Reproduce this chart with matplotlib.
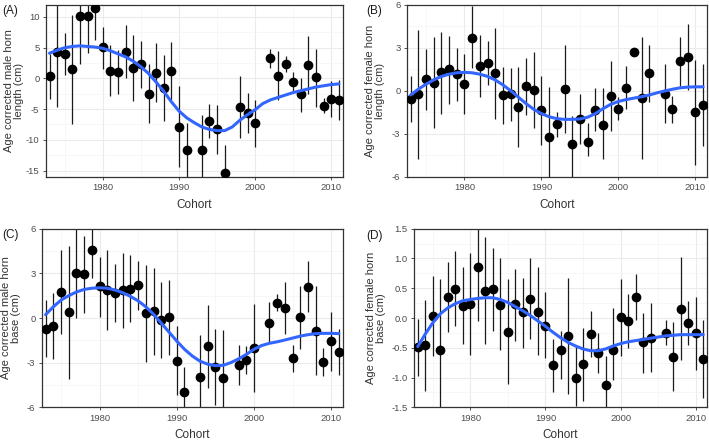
import numpy as np
import matplotlib
matplotlib.use('Agg')
import matplotlib.pyplot as plt
from matplotlib.ticker import MultipleLocator

plt.rcParams['font.family'] = ['Liberation Sans', 'DejaVu Sans']

curve_years = list(range(1973, 2012))

# (A) male horn length
a_years = [1973, 1974, 1975, 1976, 1977, 1978, 1979, 1980, 1981, 1982, 1983, 1984, 1985,
           1986, 1987, 1988, 1989, 1990, 1991, 1993, 1994, 1995, 1996, 1998, 1999, 2000,
           2002, 2003, 2004, 2005, 2006, 2007, 2008, 2009, 2010, 2011]
a_est = [0.4, 4.3, 4.0, 1.5, 10.2, 10.2, 11.4, 5.1, 1.2, 1.1, 4.3, 1.7, 2.3,
         -2.5, 0.9, -1.6, 1.2, -7.9, -11.7, -11.7, -6.9, -8.3, -15.4, -4.7, -5.7, -7.3,
         3.3, 0.4, 2.3, -0.6, -2.6, 2.2, 0.2, -4.5, -3.4, -3.5]
a_lo = [-3.4, -4.6, 0.6, -7.4, 2.3, 4.1, 6.3, 1.5, -2.9, -2.5, 0.0, -3.6, -1.5,
        -7.3, -3.9, -7.0, -3.5, -14.5, -17.0, -17.0, -9.7, -12.3, -17.0, -9.7, -8.9, -11.2,
        1.7, -3.5, 1.1, -2.2, -5.5, -2.6, -4.6, -5.6, -6.2, -6.7]
a_hi = [4.0, 13.0, 7.4, 10.3, 13.0, 13.0, 13.0, 8.3, 5.5, 4.6, 8.7, 7.1, 6.1,
        2.3, 5.8, 3.8, 6.0, -1.3, -7.2, -5.9, -4.2, -4.3, -10.9, 0.4, -2.4, -3.5,
        4.8, 4.4, 3.6, 1.1, 0.1, 6.9, 4.8, -3.2, -0.5, -0.3]
a_curve = [4.1, 4.6, 5.0, 5.2, 5.3, 5.2, 5.1, 4.9, 4.5, 4.0, 3.5, 2.8, 1.9,
           0.8, -0.6, -2.1, -3.8, -5.3, -6.4, -7.2, -7.9, -8.3, -8.5, -8.5, -7.9,
           -6.8, -5.9, -5.1, -4.1, -3.5, -3.1, -2.7, -2.3, -2.0, -1.7, -1.4, -1.2,
           -1.0, -0.9]

# (B) female horn length
b_years = [1973, 1974, 1975, 1976, 1977, 1978, 1979, 1980, 1981, 1982, 1983, 1984, 1985,
           1986, 1987, 1988, 1989, 1990, 1991, 1992, 1993, 1994, 1995, 1996, 1997, 1998,
           1999, 2000, 2001, 2002, 2003, 2004, 2006, 2007, 2008, 2009, 2010, 2011]
b_est = [-0.56, -0.26, 0.8, 0.56, 1.28, 1.5, 1.17, 0.47, 3.7, 1.73, 1.94, 1.24, -0.28,
         -0.26, -1.12, 0.33, 0.07, -1.38, -3.2, -2.31, 0.14, -3.74, -1.99, -3.55, -1.33, -2.36,
         -0.37, -1.26, 0.21, 2.71, -0.51, 1.24, -0.23, -1.31, 2.06, 2.38, -1.5, -0.98]
b_lo = [-2.2, -4.75, -1.35, -2.6, -1.6, -0.9, -0.7, -1.66, 1.57, -0.42, 0.42, -1.94, -2.29,
        -2.1, -3.93, -1.68, -2.6, -3.8, -7.0, -3.2, -2.92, -7.0, -3.74, -4.53, -2.83, -4.79,
        -2.83, -2.06, -1.29, 2.48, -4.74, -0.77, -2.22, -2.27, 0.33, 0.05, -5.19, -3.86]
b_hi = [1.05, 4.25, 2.9, 3.75, 4.1, 3.85, 3.0, 2.57, 5.9, 3.9, 3.48, 4.4, 1.66,
        1.6, 1.68, 2.31, 2.69, 1.03, 0.23, -1.5, 3.22, -1.75, -0.26, -2.24, 0.16, 0.16,
        2.08, -0.47, 1.7, 2.92, 3.74, 3.2, 1.85, -0.4, 3.78, 4.67, 2.15, 1.85]
b_curve = [-0.3, 0.1, 0.45, 0.75, 1.0, 1.15, 1.25, 1.28, 1.25, 1.15, 1.0, 0.75, 0.4,
           0.0, -0.45, -0.9, -1.3, -1.6, -1.82, -1.95, -2.0, -2.0, -1.97, -1.85, -1.6,
           -1.25, -0.95, -0.75, -0.62, -0.52, -0.42, -0.3, -0.15, -0.02, 0.1, 0.2, 0.25,
           0.27, 0.27]

# (C) male horn base
c_years = a_years
c_est = [-0.72, -0.54, 1.77, 0.38, 3.0, 2.93, 4.54, 2.13, 1.9, 1.66, 1.88, 1.97, 2.19,
         0.31, 0.45, -0.11, 0.07, -2.86, -5.0, -3.96, -1.88, -3.29, -4.0, -3.13, -2.82, -1.99,
         -0.36, 1.03, 0.67, -2.68, 0.04, 2.06, -0.85, -2.98, -1.54, -2.3]
c_lo = [-2.62, -2.75, -1.07, -4.07, 0.02, 0.36, 2.68, 0.07, -0.78, -0.29, -0.67, -0.25, 0.56,
        -2.98, -2.46, -2.7, -2.46, -5.19, -7.0, -7.0, -4.68, -5.82, -7.0, -4.47, -3.74, -4.97,
        -1.7, 0.47, -1.1, -3.6, -2.08, 0.4, -3.83, -3.92, -3.58, -3.85]
c_hi = [1.19, 1.7, 4.6, 4.83, 7.0, 5.5, 7.0, 4.12, 4.6, 3.65, 4.38, 4.2, 3.83,
        3.58, 3.33, 2.42, 2.57, -0.56, -3.31, -1.12, 0.89, -0.74, -0.8, -1.81, -1.9, 0.96,
        1.05, 1.63, 2.42, -1.79, 2.15, 3.8, 2.13, -2.04, 0.38, -0.76]
c_curve = [0.22, 0.75, 1.2, 1.5, 1.75, 1.92, 2.0, 2.03, 2.0, 1.88, 1.7, 1.45, 1.15,
           0.75, 0.25, -0.35, -0.95, -1.55, -2.1, -2.55, -2.9, -3.1, -3.2, -3.18, -3.0,
           -2.75, -2.45, -2.1, -1.85, -1.7, -1.6, -1.48, -1.35, -1.22, -1.12, -1.05,
           -1.03, -1.03, -1.05]

# (D) female horn base
d_years = b_years
d_est = [-0.49, -0.46, 0.03, -0.53, 0.35, 0.48, 0.2, 0.24, 0.85, 0.46, 0.48, 0.22, -0.23,
         0.23, 0.1, 0.32, 0.1, -0.13, -0.79, -0.53, -0.3, -1.01, -0.78, -0.27, -0.59, -1.12,
         -0.54, 0.02, -0.05, 0.36, -0.4, -0.33, -0.25, -0.65, 0.15, -0.08, -0.25, -0.69]
d_lo = [-0.98, -1.23, -0.64, -1.7, -0.24, -0.14, -0.44, -0.62, -0.05, -0.44, -0.22, -0.54, -1.11,
        -0.39, -0.5, -0.36, -0.62, -0.68, -1.25, -1.02, -1.27, -1.47, -1.4, -0.65, -0.93, -1.7,
        -1.04, -0.64, -0.51, -0.03, -0.92, -0.9, -0.46, -1.23, -0.71, -0.46, -0.87, -1.35]
d_hi = [-0.02, 0.31, 0.7, 0.66, 0.94, 1.12, 0.85, 1.1, 1.7, 1.36, 1.18, 1.0, 0.65,
        0.83, 0.68, 1.0, 0.85, 0.43, -0.35, -0.21, 0.67, -0.45, -0.17, 0.11, -0.25, -0.63,
        0.16, 0.66, 0.41, 0.74, 0.09, 0.25, -0.04, -0.07, 1.02, 0.29, 0.35, -0.03]
d_curve = [-0.48, -0.27, -0.08, 0.07, 0.17, 0.24, 0.29, 0.31, 0.33, 0.34, 0.34, 0.31, 0.26,
           0.19, 0.12, 0.04, -0.05, -0.14, -0.24, -0.33, -0.41, -0.47, -0.52, -0.55, -0.55,
           -0.52, -0.47, -0.43, -0.4, -0.38, -0.36, -0.34, -0.32, -0.3, -0.29, -0.28,
           -0.28, -0.28, -0.28]

W, H = 709, 443
fig = plt.figure(figsize=(W / 100, H / 100), dpi=100)


def px_axes(l, t, r, b):
    return fig.add_axes([l / W, 1 - b / H, (r - l) / W, (b - t) / H])


# tag, tag position (px), axes box (px), label right edge (px), ...
panels = [
    ('(A)', (2, 11), (45.7, 4.7, 342.7, 176.7), 24, a_years, a_est, a_lo, a_hi, a_curve,
     (-16, 12), 5, 'Age corrected male horn\nlength (cm)', '%g'),
    ('(B)', (366, 11), (406.7, 4.7, 707.0, 176.7), 385, b_years, b_est, b_lo, b_hi, b_curve,
     (-6, 6), 3, 'Age corrected female horn\nlength (cm)', '%g'),
    ('(C)', (2, 235), (41.7, 228.7, 342.7, 407.3), 21, c_years, c_est, c_lo, c_hi, c_curve,
     (-6, 6), 3, 'Age corrected male horn\nbase (cm)', '%g'),
    ('(D)', (366, 236), (414.0, 228.7, 707.0, 407.3), 386, d_years, d_est, d_lo, d_hi, d_curve,
     (-1.5, 1.5), 0.5, 'Age corrected female horn\nbase (cm)', '%.1f'),
]

for tag, tag_xy, box, lab_x, yrs, est, lo, hi, curve, ylim, ystep, ylab, fmt in panels:
    ax = px_axes(*box)
    ax.vlines(yrs, lo, hi, color='#1a1a1a', lw=0.9, zorder=2)
    ax.plot(yrs, est, 'o', color='black', ms=6, zorder=3)
    ax.plot(curve_years, curve, color='#3366FF', lw=2.2, zorder=4,
            solid_capstyle='round')
    ax.set_xlim(1972.5, 2011.5)
    ax.set_ylim(*ylim)
    ax.xaxis.set_major_locator(MultipleLocator(10))
    ax.xaxis.set_minor_locator(MultipleLocator(5))
    ax.yaxis.set_major_locator(MultipleLocator(ystep))
    ax.yaxis.set_minor_locator(MultipleLocator(ystep / 2))
    ax.yaxis.set_major_formatter(matplotlib.ticker.FormatStrFormatter(fmt))
    ax.grid(which='major', color='#EBEBEB', lw=0.8, zorder=0)
    ax.grid(which='minor', color='#F4F4F4', lw=0.5, zorder=0)
    ax.set_axisbelow(True)
    for s in ax.spines.values():
        s.set_color('#333333')
        s.set_linewidth(0.9)
    ax.tick_params(which='major', length=2.5, width=0.6, color='#333333',
                   labelsize=6.8, labelcolor='#4D4D4D', pad=2)
    ax.tick_params(which='minor', length=0)
    ax.set_xlabel('Cohort', fontsize=8.5, color='#333333', labelpad=5)
    ax.set_ylabel(ylab, fontsize=8, color='#333333', linespacing=1.0)
    ax.yaxis.set_label_coords((lab_x - box[0]) / (box[2] - box[0]), 0.5)
    fig.text(tag_xy[0] / W, 1 - tag_xy[1] / H, tag, fontsize=8.5,
             color='#1a1a1a', va='center', ha='left')

fig.savefig('out.png', dpi=100)
